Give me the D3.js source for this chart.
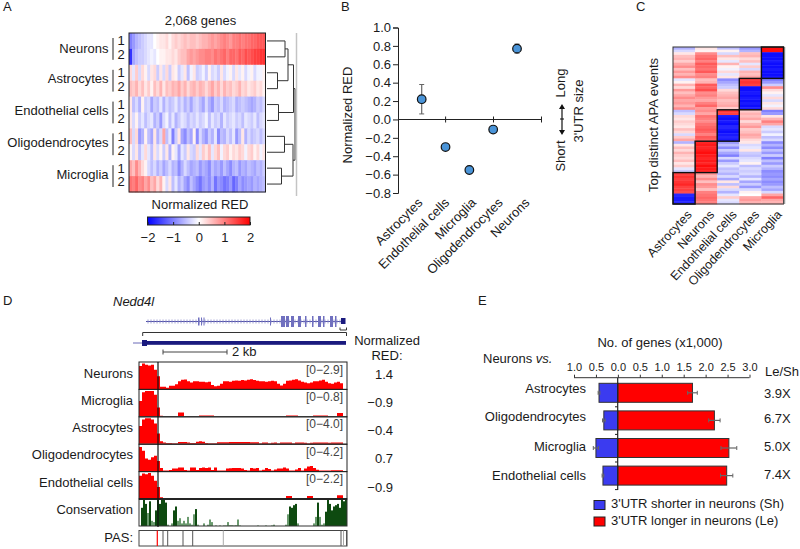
<!DOCTYPE html>
<html><head><meta charset="utf-8">
<script src="https://cdn.jsdelivr.net/npm/d3@7"></script>
<style>html,body{margin:0;padding:0;background:#fff}svg{display:block}text{font-family:"Liberation Sans",Arial,sans-serif;font-size:13px;fill:#1a1a1a}</style>
</head><body><svg id="c" width="800" height="549"></svg>
<script>
// ---------- Panel A data
const rowNamesA=["Neurons","Astrocytes","Endothelial cells","Oligodendrocytes","Microglia"];
const neurons1=[-1.0,-0.8,-0.6,-0.5,-0.4,-0.3,-0.2,-0.2,0,0.1,0.2,0.2,0.3,0.1,0.3,0.4,0.3,0.4,0.5,0.4,0.5,0.5,0.4,0.5,0.6,0.6,0.7,0.8,0.7,0.8,0.9,1.0,0.9,0.8,1.0,1.0,1.1,1.0,1.1,1.1,1.2,1.2,1.3,1.3,1.3];
const neurons2=[-1.6,-0.7,-0.5,-0.4,-0.4,-0.3,-0.2,-0.1,-0.2,0,0.1,0.1,0.2,0.2,0.3,0.2,0.4,0.5,0.5,0.7,0.8,0.7,0.8,0.9,0.9,1.0,1.0,0.9,1.1,1.0,1.1,1.2,1.0,1.2,1.2,1.1,1.3,1.2,1.4,1.3,1.4,1.5,1.5,1.6,1.6];
const astro1=[0.3,-0.2,0.4,-0.3,0.3,0.1,-0.3,0.2,0.3,-0.4,0.2,-0.3,0.3,-0.4,0.2,0.1,-0.4,-0.2,0.2,-0.5,-0.1,0.2,-0.4,-0.3,-0.1,-0.4,0.1,-0.3,-0.2,-0.4,0.2,-0.3,-0.1,0.1,-0.3,0.2,-0.2,0.1,-0.3,-0.1,0.1,-0.3,-0.1,-0.1,0.1];
const astro2=[0.5,0.4,0.6,0.3,0.5,0.2,0.4,0.1,0.5,0.3,0.6,0.2,0.5,0.4,0.6,0.5,0.7,0.4,0.6,0.3,0.5,0.6,0.4,0.6,0.5,0.3,0.5,0.7,0.4,0.6,0.3,0.6,0.4,0.5,0.3,0.4,0.6,0.3,0.4,0.2,0.3,0.4,0.2,0.3,0.1];
const endo1=[0.2,-0.5,-0.3,-0.6,0.1,-0.4,-0.3,-0.7,-0.4,-0.5,-0.2,-0.6,-0.3,-0.5,-0.4,-0.2,-0.5,-0.3,-0.6,-0.4,-0.7,-0.4,-0.3,-0.5,-0.7,-0.3,-0.6,-0.8,-0.4,-0.5,-0.3,-0.6,-0.5,-0.4,-0.3,-0.6,-0.5,-0.4,-0.5,-0.6,-0.7,-0.6,-0.4,-0.5,-0.3];
const endo2=[0.2,-0.3,0.1,-0.4,-0.2,-0.5,-0.3,-0.2,-0.6,-0.4,-0.8,-0.3,-0.1,-0.5,-0.2,-0.6,-0.4,-0.2,-0.3,-0.5,-0.3,-0.4,-0.2,-0.4,-0.3,-0.1,-0.5,-0.2,-0.4,-0.3,-0.6,-0.2,-0.4,-0.3,-0.2,-0.4,-0.3,-0.5,-0.2,-0.3,-0.4,-0.2,-0.5,-0.3,-0.2];
const oligo1=[0.5,-0.3,0.3,-0.8,-0.6,0.1,-0.5,-0.7,0.2,-0.6,-0.3,0.7,-0.5,-0.2,-1.0,-0.4,0.2,-0.7,-0.9,-0.5,-0.7,0.1,-0.9,-0.3,-0.6,-0.8,-0.4,-0.6,-0.2,-0.9,-0.5,-0.6,-0.3,-0.5,-0.2,-0.8,-0.5,0.2,-0.6,-0.3,-0.5,-0.4,-0.3,-0.5,-0.3];
const oligo2=[0.1,-0.3,0.2,-0.5,-0.2,0.3,-0.2,-0.5,0.2,-0.3,0.1,-0.4,0.2,-0.6,0.1,-0.2,-0.7,-0.2,-0.4,0.2,-0.3,-0.4,0.3,-0.2,0.4,0.2,0.5,-0.2,0.3,0.5,-0.1,0.3,0.4,0.1,0.3,0.2,0.4,0.3,-0.1,0.3,0.4,0.1,0.3,-0.1,0.2];
const micro1=[0.7,0.5,0.9,0.6,0.3,0.1,-0.3,-0.5,-0.3,-0.6,-0.4,-0.7,-0.5,-0.3,-0.6,-0.5,-0.9,-0.6,-0.3,-0.5,-0.7,-0.6,-0.5,-0.8,-0.6,-0.7,-0.9,-0.5,-0.7,-0.6,-0.8,-0.5,-0.7,-0.9,-0.6,-0.5,-0.8,-0.6,-0.7,-0.5,-0.6,-0.7,-0.5,-0.6,-0.4];
const micro2=[1.1,1.0,1.2,0.9,1.0,0.7,0.9,0.5,0.7,0.3,0.6,0.1,-0.3,0.2,-0.5,-0.2,-0.6,-0.4,-0.7,-0.9,-0.5,-0.7,-0.9,-1.1,-0.8,-0.7,-0.9,-0.6,-1.1,-0.8,-0.9,-1.1,-1.0,-0.8,-1.2,-1.0,-0.7,-0.9,-0.8,-0.7,-0.8,-0.6,-0.7,-0.6,-0.5];
const heatRowsA=[neurons1,neurons2,astro1,astro2,endo1,endo2,oligo1,oligo2,micro1,micro2];
const legendTicksA=[-2,-1,0,1,2];

// ---------- Panel B data
const cellsB=["Astrocytes","Endothelial cells","Microglia","Oligodendrocytes","Neurons"];
const redMeans=[0.22,-0.30,-0.55,-0.11,0.77];
const redErrors=[0.16,0.02,0.04,0.02,0.05];

// ---------- Panel C data
const cellsC=["Astrocytes","Neurons","Endothelial cells","Oligodendrocytes","Microglia"];
const apaAstro=[-0.6,-0.3,0.2,0.5,0.6,0.4,0.7,0.9,0.5,0.8,0.6,0.9,-0.2,0.1,0.6,0.3,0.8,0.5,0.7,0.9,0.7,0.8,0.6,0.9,-0.5,-0.3,0.3,0.2,0.4,0.3,0.2,0.5,0.3,-0.3,0.4,0.7,-0.6,0.2,0.5,0.3,0.6,0.4,0.3,0.5,0.2,0.4,-0.2,-0.4,1.5,1.6,1.5,1.6,1.7,1.5,1.5,1.4,-1.7,-1.8,-1.8,-1.7];
const apaNeurons=[0.2,0.1,0.9,1.1,1.2,1.0,1.3,1.2,1.1,1.3,0.9,1.0,0.5,0.6,1.3,1.2,1.4,0.9,1.0,0.8,0.7,1.0,1.2,0.8,0.9,0.7,1.1,1.0,0.9,1.1,1.2,1.3,1.2,1.0,1.3,1.2,1.7,1.8,1.7,1.8,1.9,1.8,1.7,1.8,1.7,1.9,1.8,1.7,0.8,0.6,0.9,0.5,0.9,0.8,0.5,1.0,1.1,1.2,1.1,1.0];
const apaEndo=[-0.5,0.1,-0.3,0.5,0.2,-0.2,0.6,0.1,-0.1,0.3,-0.2,0.2,-0.9,-0.7,-0.5,-0.4,0.3,0.5,0.6,0.7,0.5,0.6,0.7,0.4,1.6,1.5,-1.8,-1.9,-1.8,-1.9,-1.7,-1.8,-1.9,-1.8,-1.7,-1.8,-0.8,-0.5,-0.9,-0.4,-0.7,-1.0,-0.3,-0.8,-0.4,-0.2,-0.5,-0.4,-0.6,-0.3,-0.7,0.2,-0.5,0.3,-0.3,-0.6,-0.2,0.4,-0.2,-0.3];
const apaOligo=[-0.8,-0.6,0.5,0.6,0.3,0.5,-0.2,0.4,-0.3,0.6,0.5,0.7,1.5,1.6,1.5,-1.9,-1.9,-1.8,-1.9,-1.8,-1.9,-1.8,-1.9,-1.8,0.4,0.6,0.5,0.7,0.3,0.6,0.8,0.4,0.5,0.7,0.6,0.3,0.2,-0.3,-0.2,0.2,-0.4,-0.5,-0.3,-0.2,0.1,-0.5,-0.3,-0.4,-0.3,-0.6,-0.2,-0.7,-0.4,-0.8,-0.3,0.1,0,0.7,0.8,0.6];
const apaMicro=[1.9,1.9,-1.9,-1.9,-1.9,-1.8,-1.9,-1.9,-1.8,-1.9,-1.9,-1.8,-1.0,-0.8,-0.4,0.9,0.3,0.1,-0.2,0.3,-0.3,0.2,-0.1,0.3,-1.0,-0.8,0.2,0.6,1.0,0.7,-0.3,-0.2,-0.4,-0.1,-0.5,-0.3,-0.9,-0.6,-0.9,-0.5,-0.8,-0.4,-1.0,-0.5,-0.8,-0.4,-0.6,-0.9,-0.8,-0.9,-0.7,-0.9,-0.8,-0.5,-0.7,-0.3,0.7,1.2,0.7,0.6];
const apaColumns=[apaAstro,apaNeurons,apaEndo,apaOligo,apaMicro];
const boxRowsC=[48,36,24,12,0];

// ---------- Panel D data
const trackNames=["Neurons","Microglia","Astrocytes","Oligodendrocytes","Endothelial cells"];
const trackRanges=["[0\u22122.9]","[0\u22120.8]","[0\u22124.0]","[0\u22124.2]","[0\u22122.2]"];
const trackRed=["1.4","\u22120.9","\u22120.4","0.7","\u22120.9"];
const covNeurons=[.9,1,.95,.92,.95,.75,.5,.08,.08,.05,.12,.12,.18,.3,.36,.37,.3,.25,.3,.3,.28,.28,.26,.28,.15,.1,.12,.2,.3,.3,.28,.32,.33,.32,.35,.33,.36,.38,.35,.32,.3,.3,.28,.3,.32,.3,.2,.13,.2,.32,.33,.36,.38,.33,.28,.25,.22,.25,.3,.3,.33,.36,.28,.22,.2,.25,.28,.22,.1];
const covMicroglia=[.6,.95,1,1,1,.85,.35,.02,0,0,0,0,0,.15,.15,0,0,0,0,0,.03,.03,.03,.03,.03,0,0,0,0,0,0,0,0,0,0,0,0,0,0,0,0,0,0,0,0,0,0,0,0,.03,.03,.03,.03,0,0,0,0,0,.03,.03,.03,.03,.03,0,0,0,.13,.13,0];
const covAstro=[.7,.95,1,1,.95,.8,.4,.1,.05,.03,.03,.02,.02,.07,.07,.07,.05,.03,.03,.08,.1,.08,.03,.02,.02,.02,.06,.06,.06,.06,.07,.07,.07,.07,.07,.07,.07,.06,.06,.06,.02,.05,.05,.02,.04,.05,.02,.05,.05,.05,.05,.02,.05,.05,.05,.04,.02,.04,.05,.05,.05,.05,.05,.04,.05,.05,.05,.05,.02];
const covOligo=[.95,.8,.5,.45,.55,.6,.4,.12,.02,.02,.04,.1,.1,.14,.14,.04,.02,.14,.14,.04,.12,.14,.12,.14,.04,.14,.02,.02,.02,.1,.11,.12,.12,.12,.1,.04,.02,.12,.1,.12,.02,.05,.12,.08,.02,.06,.1,.1,.14,.1,.02,.02,.06,.12,.02,.1,.18,.2,.12,.05,.02,.02,.02,.02,.03,.03,.03,.03,.02];
const covEndo=[.9,.98,.95,1,.9,.7,.45,.05,0,0,0,0,0,0,0,0,0,0,0,0,0,0,0,0,0,0,0,0,0,0,0,0,0,0,0,0,0,0,0,0,0,0,0,0,0,0,0,0,0,.1,.1,0,0,0,0,0,.1,.1,0,0,0,0,0,0,0,0,.13,.13,0];
const coverage=[covNeurons,covMicroglia,covAstro,covOligo,covEndo];
const conservation=[0,.7,1,.85,.5,.95,.2,.15,.6,1,.85,1,1,.9,.05,0,.1,.6,.75,.2,.3,.1,.2,.1,.35,.1,.05,.45,.65,.05,0,0,.1,0,.05,.25,.15,0,.02,0,.02,0,.02,.02,.15,.03,.03,.02,.03,.25,.02,0,0,0,0,0,0,0,0,.02,0,0,0,.02,0,0,.02,.05,0,0,0,0,0,.05,.45,.75,.7,.8,.85,.1,0,0,0,0,0,0,0,.1,.35,.9,.35,.05,.1,.55,1,.85,.6,.75,.8,.85,.7,1,.95,1];
const pasGray=[163,167.7,183,192.7,341,346.5];
const pasFaint=[223.3,343.5];
const pasRed=[157.3];
const exonStarts=[198,201,203.5,270,281,286,291,298,305,312,318,323,330,335];
const exonWidths=[1.5,1,1,1,4,3,3,3,1.5,1.5,3,1.5,3,1.5];
const intronTicks=d3.range(148,341,3);

// ---------- Panel E data
const cellsE=["Astrocytes","Oligodendrocytes","Microglia","Endothelial cells"];
const longer=[1.70,2.20,2.53,2.48];
const shorter=[0.43,0.32,0.50,0.34];
const longerErr=[0.11,0.13,0.18,0.14];
const shorterErr=[0.02,0.03,0.06,0.02];
const foldLabels=["3.9X","6.7X","5.0X","7.4X"];
const genesTicks=[-1,-0.5,0,0.5,1,1.5,2,2.5,3];

const svg=d3.select("#c");
const heat=d3.scaleLinear().domain([-2,0,2]).range(["#0000ff","#ffffff","#ff0000"]);
const T=(x,y,s,o={})=>{const t=svg.append("text").attr("x",x).attr("y",y).text(s).attr("dominant-baseline","middle");
 if(o.a)t.attr("text-anchor",o.a);if(o.fs)t.style("font-size",o.fs+"px");if(o.rot!=null)t.attr("transform",`rotate(${o.rot},${x},${y})`);if(o.it)t.style("font-style","italic");if(o.fill)t.style("fill",o.fill);return t;};
const L=(x1,y1,x2,y2,c="#222",w=1)=>svg.append("line").attr("x1",x1).attr("y1",y1).attr("x2",x2).attr("y2",y2).attr("stroke",c).attr("stroke-width",w);

[["A",3,8],["B",341,8],["C",636,8],["D",3,302],["E",478,302]].forEach(d=>T(d[1],d[2],d[0]));

// ===== Panel A
const xA=d3.scaleBand().domain(d3.range(d3.max(heatRowsA,r=>r.length))).range([129,265.5]);
const yA=d3.scaleBand().domain(d3.range(10)).range([33,192]);
heatRowsA.forEach((r,i)=>{svg.append("g").selectAll("rect").data(r).join("rect")
 .attr("x",(d,j)=>xA(j)).attr("y",yA(i)).attr("width",xA.bandwidth()+.4).attr("height",yA.bandwidth()+.4).attr("fill",d=>heat(d));});
svg.append("rect").attr("x",129).attr("y",33).attr("width",136.5).attr("height",159).attr("fill","none").attr("stroke","#222").attr("stroke-width",1);
T(200.5,21.5,"2,068 genes",{a:"middle"});
rowNamesA.forEach((n,i)=>{const top=yA(i*2),b=yA.bandwidth();
 T(108.5,top+b+(i===0?.5:-1),n,{a:"end"});
 L(113,top+5,113,top+2*b-5,"#222",1);
 T(121,top+b*.5+1,"1",{a:"middle"});T(121,top+b*1.5-1,"2",{a:"middle"});});
const cy=i=>yA(i)+yA.bandwidth()/2;
const den=(ya,xa,yb,xb,xj)=>{svg.append("path").attr("d",`M${xa},${ya}H${xj}V${yb}H${xb}`).attr("fill","none").attr("stroke","#333").attr("stroke-width",1);return (ya+yb)/2;};
const n1=den(cy(0),267,cy(1),267,285),n2=den(cy(2),267,cy(3),267,277.5),n3=den(cy(4),267,cy(5),267,278.5),n4=den(cy(6),267,cy(7),267,284.5),n5=den(cy(8),267,cy(9),267,281.5);
const n6=den(n1,285,n2,277.5,288),n7=den(n6,288,n3,278.5,293.5),n8=den(n4,284.5,n5,281.5,293),n9=den(n7,293.5,n8,293,295);
L(296.5,33,296.5,196,"#c4c4c4",1.5);
const defs=svg.append("defs");
const g=defs.append("linearGradient").attr("id","cb");
[-2,0,2].forEach((v,i)=>g.append("stop").attr("offset",i/2).attr("stop-color",heat(v)));
const xCb=d3.scaleLinear().domain([-2,2]).range([147.5,250]);
svg.append("rect").attr("x",147.5).attr("y",217).attr("width",102.5).attr("height",8).attr("fill","url(#cb)").attr("stroke","#222");
const axCb=svg.append("g").attr("transform","translate(0,225)").call(d3.axisBottom(xCb).tickValues(legendTicksA).tickSize(4).tickFormat(d=>d3.format("d")(d).replace("-","\u2212")));
axCb.select(".domain").remove();axCb.selectAll("text").style("font-size","13px").attr("y",8);axCb.selectAll("line").attr("y2",-3).attr("stroke","#222");
T(200,206,"Normalized RED",{a:"middle"});

// ===== Panel B
const yB=d3.scaleLinear().domain([-0.8,1]).range([193,27.5]);
const xB=d3.scalePoint().domain(cellsB).range([421.7,517]);
const axB=svg.append("g").attr("transform","translate(398,0)").call(d3.axisLeft(yB).tickValues(d3.range(-0.8,1.01,0.2)).tickSize(5).tickFormat(d=>d3.format(".1f")(Math.abs(d)<1e-9?0:d).replace("-","\u2212")));
axB.selectAll("text").style("font-size","13px").attr("x",-7);axB.select(".domain").attr("stroke","#222");axB.selectAll("line").attr("stroke","#222");
L(398,119.5,541.7,119.5,"#222",1);
[445.6,493.5,541.5].forEach(x=>L(x,116.5,x,122.5,"#222",1));
cellsB.forEach((c,i)=>{const x=xB(c),v=redMeans[i],e=redErrors[i];
 L(x,yB(v+e),x,yB(v-e),"#666",1.2);L(x-2.5,yB(v+e),x+2.5,yB(v+e),"#666",1);L(x-2.5,yB(v-e),x+2.5,yB(v-e),"#666",1);
 svg.append("circle").attr("cx",x).attr("cy",yB(v)).attr("r",4.3).attr("fill","#4a94d8").attr("stroke","#111").attr("stroke-width",1.2);});
const xBl=d3.scalePoint().domain(cellsB).range([421,528]);
cellsB.forEach(c=>T(xBl(c),201,c,{a:"end",rot:-45,fs:13}));
T(349,115,"Normalized RED",{a:"middle",rot:-90});
T(562,83,"Long",{a:"middle",rot:-90});
T(562,156,"Short",{a:"middle",rot:-90});
T(580,111,"3'UTR size",{a:"middle",rot:-90});
L(562,108,562,132,"#111",1.2);L(560,119,564,119,"#111",1);
svg.append("path").attr("d","M562,104l-3,5h6zM562,135l-3,-5h6z").attr("fill","#111");

// ===== Panel C
const xC=d3.scaleBand().domain(cellsC).range([673,783.5]);
const yC=d3.scaleBand().domain(d3.range(60)).range([47,204]);
apaColumns.forEach((col,i)=>{svg.append("g").selectAll("rect").data(col).join("rect")
 .attr("x",xC(cellsC[i])).attr("y",(d,j)=>yC(j)).attr("width",xC.bandwidth()+.3).attr("height",yC.bandwidth()+.4).attr("fill",d=>heat(d));});
svg.append("rect").attr("x",673).attr("y",47).attr("width",110.5).attr("height",157).attr("fill","none").attr("stroke","#333").attr("stroke-width",1);
L(784.5,47,784.5,204,"#999",1.5);
boxRowsC.forEach((r,i)=>svg.append("rect").attr("x",xC(cellsC[i])).attr("y",yC(r)).attr("width",xC.bandwidth()).attr("height",yC.bandwidth()*12).attr("fill","none").attr("stroke","#111").attr("stroke-width",1.4));
T(655,125,"Top distinct APA events",{a:"middle",rot:-90});
const xCl=d3.scalePoint().domain(cellsC).range([690,780]);
cellsC.forEach(c=>T(xCl(c),213,c,{a:"end",rot:-47,fs:12.5}));

// ===== Panel D
T(113,303,"Nedd4l",{it:1,fs:13});
const navy="#1a1a7e";
L(146,321.5,342,321.5,"#5050a8",1);
svg.append("g").selectAll("line").data(intronTicks).join("line").attr("x1",d=>d).attr("x2",d=>d).attr("y1",319.5).attr("y2",323.5).attr("stroke","#8a8ac8").attr("stroke-width",.8);
svg.append("g").selectAll("rect").data(exonStarts).join("rect").attr("x",d=>d).attr("y",(d,i)=>i<4?317.5:316).attr("width",(d,i)=>exonWidths[i]).attr("height",(d,i)=>i<4?8:11).attr("fill","#7070bf");
svg.append("rect").attr("x",341).attr("y",318).attr("width",4.5).attr("height",6).attr("fill",navy);
svg.append("path").attr("d","M142.7,336V332.5H346.5V336M340,327.5V330H346.5V327.5").attr("fill","none").attr("stroke","#333");
L(133,343,142,343,"#6a6ab8",1);
svg.append("rect").attr("x",145).attr("y",341).attr("width",201).attr("height",3.8).attr("fill",navy);
svg.append("rect").attr("x",142).attr("y",340).attr("width",5).attr("height",6).attr("fill",navy);
svg.append("path").attr("d","M163,349.5V354.5M163,352H227M227,349.5V354.5").attr("fill","none").attr("stroke","#444");
T(232,352.5,"2 kb");
T(387,341.5,"Normalized",{a:"middle"});T(387,356.5,"RED:",{a:"middle"});
const rowsD=d3.scaleBand().domain(d3.range(5)).range([362,499]);
const trackH=rowsD.bandwidth();
const labelY=[375,402,429,456,484],redY=[375.5,403.5,432,460,489];
trackNames.forEach((n,i)=>{const y0=rowsD(i),vals=coverage[i];
 const xt=d3.scaleLinear().domain([0,vals.length]).range([139,346]);
 const yt=d3.scaleLinear().domain([0,1]).range([y0+trackH-.5,y0+1.5]);
 svg.append("path").datum(vals).attr("fill","#ff0000").attr("d",d3.area().x((d,j)=>xt(j)).y0(yt(0)).y1(d=>yt(d)).curve(d3.curveStepAfter));
 svg.append("rect").attr("x",139).attr("y",y0).attr("width",208).attr("height",trackH).attr("fill","none").attr("stroke","#222").attr("stroke-width",1);
 T(133,labelY[i],n,{a:"end"});
 T(343,y0+8.5,trackRanges[i],{a:"end",fs:12,fill:"#444"});
 T(393,redY[i],trackRed[i],{a:"end"});
});
const xCons=d3.scaleBand().domain(d3.range(conservation.length)).range([139,347]);
const yCons=d3.scaleLinear().domain([0,1]).range([526,500]);
svg.append("g").selectAll("rect").data(conservation).join("rect").attr("x",(d,i)=>xCons(i)).attr("y",d=>yCons(d)).attr("width",xCons.bandwidth()).attr("height",d=>526-yCons(d)).attr("fill",d=>d>.5?"#0e4a10":"#6a9a6e");
svg.append("rect").attr("x",139).attr("y",499).attr("width",208).attr("height",27).attr("fill","none").attr("stroke","#333");
T(133,511,"Conservation",{a:"end"});
L(139,499,347,499,"#111",1.5);
L(158,362,158,527,"#111",1.2);
svg.append("rect").attr("x",139).attr("y",530.5).attr("width",208).attr("height",15.5).attr("fill","none").attr("stroke","#444");
T(133,538.5,"PAS:",{a:"end"});
pasGray.forEach(x=>L(x,530.5,x,546,"#555",1));
pasFaint.forEach(x=>L(x,530.5,x,546,"#aaa",1));
pasRed.forEach(x=>L(x,530.5,x,546,"#ff0000",1.2));

// ===== Panel E
const xE=d3.scaleLinear().domain([-1,3]).range([574,749.5]);
const yE=d3.scaleBand().domain(cellsE).range([383.3,485.1]).paddingInner(.3116).paddingOuter(0);
T(660,344,"No. of genes (x1,000)",{a:"middle"});
const nv=T(483,360,"Neurons ");nv.append("tspan").text("vs.").style("font-style","italic");
const axE=svg.append("g").attr("transform","translate(0,377.7)").call(d3.axisTop(xE).tickValues(genesTicks).tickSize(3).tickFormat(d=>d3.format(".1f")(Math.abs(d))));
axE.selectAll("text").style("font-size","11px").attr("y",-6.5).attr("dominant-baseline","auto");axE.select(".domain").attr("stroke","#333").attr("d","M574,0H749.5");axE.selectAll("line").attr("stroke","#333");
const labY=[390,418,447.3,476.3],foldY=[395,420,448,476];
cellsE.forEach((c,i)=>{const y=yE(c),h=yE.bandwidth(),m=y+h/2;
 svg.append("rect").attr("x",xE(-shorter[i])).attr("y",y).attr("width",xE(0)-xE(-shorter[i])).attr("height",h).attr("fill","#3b3bf0").attr("stroke","#333").attr("stroke-width",1);
 svg.append("rect").attr("x",xE(0)).attr("y",y).attr("width",xE(longer[i])-xE(0)).attr("height",h).attr("fill","#ff0000").attr("stroke","#333").attr("stroke-width",1);
 L(xE(longer[i]-longerErr[i]),m,xE(longer[i]+longerErr[i]),m,"#666",1.2);
 [-1,1].forEach(s=>L(xE(longer[i]+s*longerErr[i]),m-2,xE(longer[i]+s*longerErr[i]),m+2,"#666",1));
 L(xE(-shorter[i]-shorterErr[i]),m,xE(-shorter[i]+shorterErr[i]),m,"#666",1.2);
 [-1,1].forEach(s=>L(xE(-shorter[i]+s*shorterErr[i]),m-2,xE(-shorter[i]+s*shorterErr[i]),m+2,"#666",1));
 T(586,labY[i],c,{a:"end"});
 T(764,foldY[i],foldLabels[i]);
 L(615,y+h+4.5,617.7,y+h+4.5,"#222",1);
});
L(617.7,378,617.7,490,"#222",1.2);
T(765,373,"Le/Sh");
svg.append("rect").attr("x",594).attr("y",500.5).attr("width",11).attr("height",9).attr("fill","#3b3bf0").attr("stroke","#222");
svg.append("rect").attr("x",594).attr("y",517).attr("width",11).attr("height",9).attr("fill","#ff0000").attr("stroke","#222");
T(611,505,"3'UTR shorter in neurons (Sh)");
T(611,521.5,"3'UTR longer in neurons (Le)");
</script></body></html>
